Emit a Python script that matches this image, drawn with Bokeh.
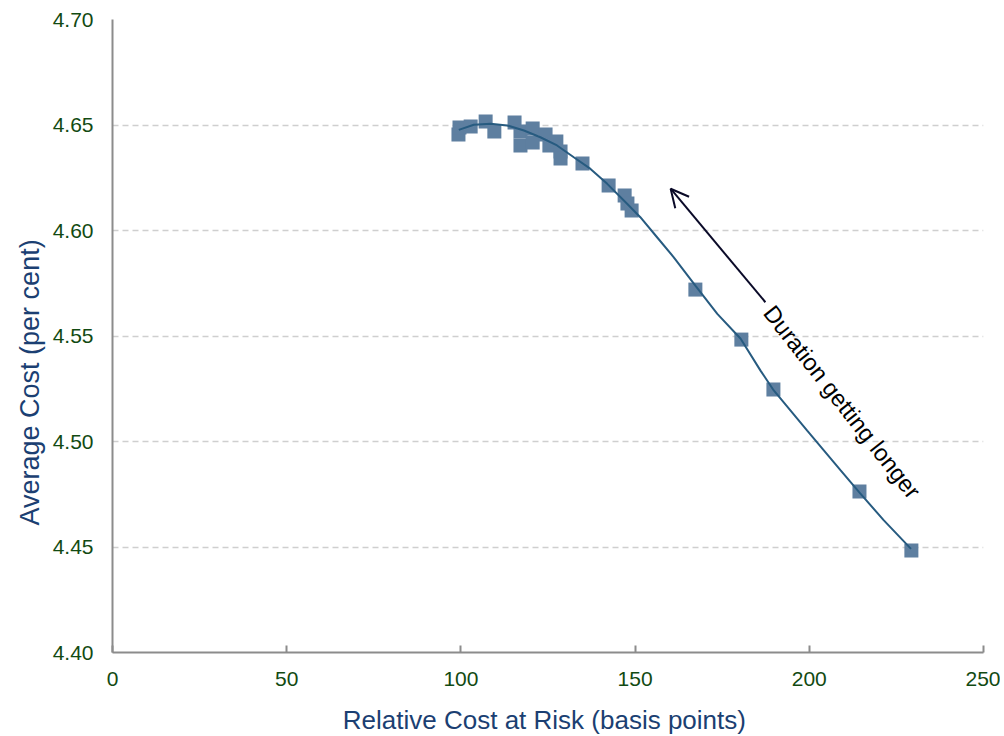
import math
from bokeh.plotting import figure
from bokeh.models import Arrow, OpenHead, Title, FixedTicker, PrintfTickFormatter, Range1d
from bokeh.core.properties import value
from bokeh.embed import file_html
from bokeh.resources import INLINE

# ---- data ----
cost_at_risk = [99.3, 99.6, 102.8, 107.1, 109.6, 115.4, 117.1, 117.1, 120.6, 120.6,
                124.3, 125.4, 127.4, 128.6, 128.6, 134.9, 142.4, 147.0, 147.8, 149.0,
                167.3, 180.5, 189.7, 214.4, 229.3]
average_cost = [4.6455, 4.6488, 4.6493, 4.6517, 4.6469, 4.6512, 4.6469, 4.6403, 4.6483, 4.6417,
                4.6455, 4.6403, 4.6422, 4.6374, 4.6341, 4.6318, 4.6213, 4.6166, 4.6128, 4.6095,
                4.5720, 4.5483, 4.5246, 4.4763, 4.4483]

trend_x = [99.4, 103.7, 108.5, 113.3, 118.1, 122.8, 127.6, 132.4, 137.2, 142.0,
           147.7, 151.5, 156.3, 161.1, 167.3, 173.6, 180.3, 186.0, 189.8, 199.4,
           209.0, 214.3, 221.4, 229.2]
trend_y = [4.6477, 4.6501, 4.6506, 4.6498, 4.6474, 4.6442, 4.6403, 4.6347, 4.6292, 4.6221,
           4.6127, 4.6063, 4.5968, 4.5873, 4.5739, 4.5605, 4.5487, 4.5336, 4.5242, 4.5052,
           4.4863, 4.4760, 4.4626, 4.4491]

x_ticks = [0, 50, 100, 150, 200, 250]
y_ticks = [4.40, 4.45, 4.50, 4.55, 4.60, 4.65, 4.70]

annotation_text = "Duration getting longer"
x_title = "Relative  Cost at Risk (basis points)"
y_title = "Average  Cost (per cent)"

FONT = "Liberation Sans"
TICK_COLOR = "#124A12"
TITLE_COLOR = "#1B3F72"

p = figure(frame_width=871, frame_height=633,
           min_border_left=112, min_border_top=19, min_border_right=17, min_border_bottom=84,
           x_range=Range1d(0, 250), y_range=Range1d(4.40, 4.70),
           output_backend="svg", toolbar_location=None, tools="")
p.outline_line_color = None
p.background_fill_color = "white"
p.border_fill_color = "white"

# grid
p.xgrid.visible = False
p.ygrid.ticker = FixedTicker(ticks=y_ticks)
p.ygrid.grid_line_color = "#CFCFCF"
p.ygrid.grid_line_width = 1.5
p.ygrid.grid_line_dash = "6 4"

# axes
for ax in (p.xaxis[0], p.yaxis[0]):
    ax.axis_line_color = "#8C8C8C"
    ax.axis_line_width = 2
    ax.major_tick_line_color = "#8C8C8C"
    ax.major_tick_line_width = 2
    ax.minor_tick_line_color = None
    ax.major_label_text_font = FONT
    ax.major_label_text_font_size = "21px"
    ax.major_label_text_color = TICK_COLOR

p.xaxis.ticker = FixedTicker(ticks=x_ticks)
p.xaxis.major_tick_in = 7
p.xaxis.major_tick_out = 0
p.xaxis.major_label_standoff = 19
p.xaxis.axis_label = x_title
p.xaxis.axis_label_text_font = FONT
p.xaxis.axis_label_text_font_size = "26px"
p.xaxis.axis_label_text_font_style = "normal"
p.xaxis.axis_label_text_color = TITLE_COLOR
p.xaxis.axis_label_standoff = 16

p.yaxis.ticker = FixedTicker(ticks=y_ticks)
p.yaxis.formatter = PrintfTickFormatter(format="%.2f")
p.yaxis.major_tick_in = 0
p.yaxis.major_tick_out = 0
p.yaxis.major_label_standoff = 19

# y title placed in the left panel, anchored near the bottom as in the reference
p.add_layout(Title(text=y_title, align="left", offset=127, standoff=10,
                   text_font=FONT, text_font_size="27px", text_font_style="normal",
                   text_color=TITLE_COLOR), "left")

# points and fitted curve
p.scatter(cost_at_risk, average_cost, marker="square", size=14,
          fill_color="#5E7FA0", line_color=None)
p.line(trend_x, trend_y, line_color="#275B80", line_width=2)

# arrow + annotation
p.add_layout(Arrow(end=OpenHead(size=18, line_color="#0A0A28", line_width=2),
                   x_start=187.4, y_start=4.566, x_end=160.2, y_end=4.6198,
                   line_color="#0A0A28", line_width=2))
p.text(x=[191.2], y=[4.5668], text=[annotation_text], angle=-0.905,
       text_align="left", text_baseline="top",
       text_font=value(FONT), text_font_size="23.5px", text_color="black")

open("out.html", "w").write(file_html(p, INLINE))
